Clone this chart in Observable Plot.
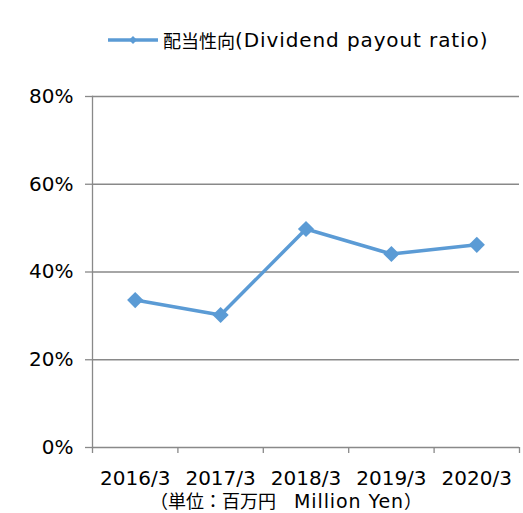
<!DOCTYPE html>
<html>
<head>
<meta charset="utf-8">
<script src="https://cdn.jsdelivr.net/npm/d3@7"></script>
<script src="https://cdn.jsdelivr.net/npm/@observablehq/plot@0.6"></script>
<style>
  body { margin: 0; background: #fff; font-family: "DejaVu Sans", "Noto Sans CJK JP", sans-serif; color: #000; }
  #wrap { position: relative; width: 523px; height: 513px; overflow: hidden; }
  #legend { position: absolute; left: 108px; top: 26px; height: 28px; display: flex; align-items: center; font-size: 20px; white-space: nowrap; }
  #legend svg { margin-right: 3px; }
  .cjk { font-size: 18px; letter-spacing: 0; }
  .en { letter-spacing: 0.9px; }
  #chart { position: absolute; left: 0; top: 80px; }
  #caption { position: absolute; left: 150px; top: 487px; font-size: 19px; white-space: nowrap; }
</style>
</head>
<body>
<div id="wrap">
  <div id="legend"></div>
  <div id="chart"></div>
  <div id="caption"><span class="cjk">（単位：百万円　</span><span class="en">Million Yen</span><span class="cjk">）</span></div>
</div>
<script>
const categories = ["2016/3", "2017/3", "2018/3", "2019/3", "2020/3"];
const payoutRatio = [33.6, 30.2, 49.8, 44.1, 46.2];
const yTicks = [0, 20, 40, 60, 80];
const seriesNameJa = "配当性向";
const seriesNameEn = "(Dividend payout ratio)";

const color = "#5b9bd5";
const grid = "#898989";

const data = categories.map((c, i) => ({ i: i + 0.5, cat: c, v: payoutRatio[i] }));

// legend
const leg = document.getElementById("legend");
const sw = d3.create("svg").attr("width", 52).attr("height", 14);
sw.append("line").attr("x1", 0).attr("x2", 50).attr("y1", 7).attr("y2", 7).attr("stroke", color).attr("stroke-width", 3.5);
sw.append("path").attr("d", d3.symbol(d3.symbolDiamond2, 40)()).attr("transform", "translate(25,7)").attr("fill", color);
leg.appendChild(sw.node());
const lj = document.createElement("span");
lj.className = "cjk";
lj.textContent = seriesNameJa;
leg.appendChild(lj);
const le = document.createElement("span");
le.className = "en";
le.textContent = seriesNameEn;
leg.appendChild(le);

const chart = Plot.plot({
  width: 523,
  height: 405,
  marginLeft: 92,
  marginRight: 4,
  marginTop: 16,
  marginBottom: 38,
  style: { fontFamily: "\"DejaVu Sans\", \"Noto Sans CJK JP\", sans-serif", fontSize: "20px", color: "#000", background: "#fff", overflow: "visible" },
  x: { type: "linear", domain: [0, categories.length] },
  y: { domain: [0, 80] },
  marks: [
    Plot.gridY(yTicks, { stroke: grid, strokeOpacity: 1, strokeWidth: 1.3 }),
    Plot.axisY(yTicks, { tickSize: 7, tickPadding: 12, stroke: grid, strokeWidth: 1.3, tickFormat: d => d + "%", fill: "#000", fontSize: 20, label: null }),
    Plot.frame({ anchor: "left", stroke: grid, strokeWidth: 1.3 }),
    Plot.axisX(d3.range(categories.length + 1), { tickSize: 6, stroke: grid, strokeWidth: 1.3, tickFormat: () => "", label: null }),
    Plot.axisX(data.map(d => d.i), { tickSize: 0, tickPadding: 23, tickFormat: x => categories[Math.floor(x)], fill: "#000", fontSize: 20, label: null }),
    Plot.line(data, { x: "i", y: "v", stroke: color, strokeWidth: 3.5 }),
    Plot.dot(data, { x: "i", y: "v", symbol: "diamond2", r: 7.3, fill: color, stroke: "none" })
  ]
});
document.getElementById("chart").appendChild(chart);
</script>
</body>
</html>
